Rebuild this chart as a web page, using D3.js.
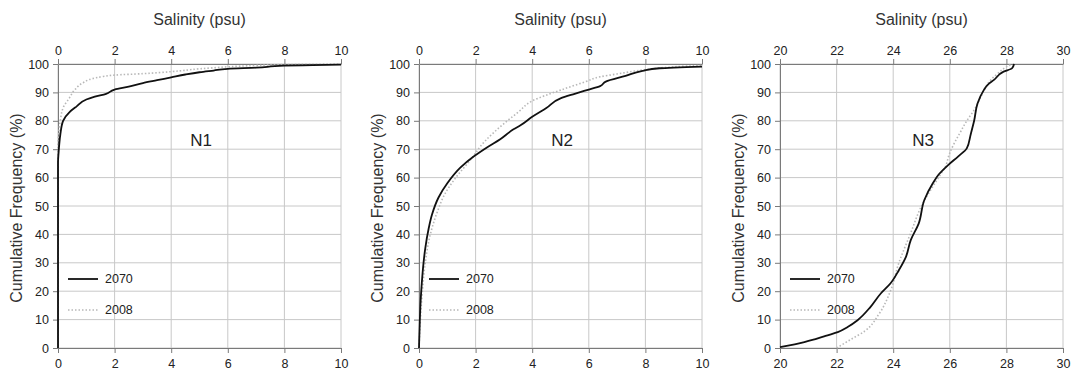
<!DOCTYPE html>
<html>
<head>
<meta charset="utf-8">
<script src="https://cdn.jsdelivr.net/npm/d3@7"></script>
<style>
  body { margin: 0; background: #fff; }
  svg { font-family: "Liberation Sans", Arial, sans-serif; }
  .tick text { fill: #222; font-size: 12.5px; }
  .domain { stroke: #7a7a7a; }
  .tick line { stroke: #7a7a7a; }
</style>
</head>
<body>
<div id="chart"></div>
<script>
// panel names and x ranges (salinity, psu)
var panelNames = ["N1", "N2", "N3"];
var xDomains = [[0, 10], [0, 10], [20, 30]];
var xTicks = [[0, 2, 4, 6, 8, 10], [0, 2, 4, 6, 8, 10], [20, 22, 24, 26, 28, 30]];
var yTicks = [0, 10, 20, 30, 40, 50, 60, 70, 80, 90, 100];
var legendLabels = ["2070", "2008"];

// cumulative frequency curves: [salinity, %]
var n1_2070 = [[0, 0], [0, 65], [0.03, 70], [0.08, 75], [0.18, 80], [0.4, 83], [0.65, 85], [1.0, 87.5],
    [1.3, 88.5], [1.7, 89.5], [2, 91], [2.5, 92], [3, 93.3], [3.5, 94.3], [4, 95.3], [4.5, 96.3],
    [5, 97.1], [5.5, 97.7], [6, 98.3], [7, 98.7], [8, 99.4], [9, 99.6], [10, 99.8]];
var n1_2008 = [[0, 0], [0, 70], [0.02, 75], [0.08, 80], [0.2, 85], [0.4, 88], [0.6, 91], [0.9, 93.5],
    [1.2, 94.8], [1.6, 95.6], [2, 96.1], [3, 96.6], [4, 97.3], [5, 98.3], [6, 99], [7, 99.5],
    [8, 99.8], [10, 100]];
var n2_2070 = [[0, 0], [0.03, 10], [0.06, 17], [0.1, 23], [0.16, 30], [0.22, 35], [0.34, 42], [0.46, 47],
    [0.69, 53], [1.0, 58], [1.46, 63.5], [1.93, 67.4], [2.4, 70.6], [2.87, 73.5], [3.34, 77], [3.6, 78.5],
    [4.0, 81.4], [4.5, 84.5], [5.0, 87.9], [5.5, 89.5], [6, 91], [6.4, 92.2], [6.6, 93.8], [7.3, 95.8],
    [7.9, 97.6], [8.5, 98.5], [10, 99.1]];
var n2_2008 = [[0, 0], [0.05, 10], [0.12, 20], [0.22, 30], [0.4, 40], [0.65, 48], [0.9, 54], [1.3, 60],
    [1.8, 66], [2.3, 72.5], [3.0, 79], [3.5, 83], [4.0, 87], [5.0, 90.8], [5.9, 93.8], [6.4, 95.5],
    [7, 96.5], [8, 98], [9, 99], [10, 99.5]];
var n3_2070 = [[20, 0.3], [20.86, 2.1], [21.56, 4.1], [22.04, 5.6], [22.39, 7.4], [22.74, 9.8], [23.2, 14.5],
    [23.56, 19.2], [23.9, 22.7], [24.2, 27.4], [24.45, 32.1], [24.62, 38], [24.9, 43.8], [25.1, 52.1],
    [25.4, 58], [25.6, 61], [25.95, 64.5], [26.3, 67.5], [26.6, 70.3], [26.74, 75.3], [26.86, 80],
    [26.98, 86.1], [27.2, 90.8], [27.33, 92.6], [27.56, 94.4], [27.9, 97.3], [28.2, 98.5], [28.27, 100]];
var n3_2008 = [[22.0, 0], [22.5, 3], [23.0, 6], [23.5, 12], [23.9, 20], [24.2, 30], [24.6, 40],
    [25.0, 50], [25.6, 60], [25.85, 64], [25.98, 68.2], [26.4, 76.5], [26.6, 80], [26.86, 83.8],
    [27.1, 88.5], [27.45, 94.4], [27.7, 96.7], [28.0, 99], [28.2, 100]];

var series = [[n1_2070, n1_2008], [n2_2070, n2_2008], [n3_2070, n3_2008]];

var width = 1074, height = 375;
var plotLefts = [58, 419, 780];
var plotW = 283;
var plotTop = 64, plotBottom = 348;

var svg = d3.select("#chart").append("svg")
    .attr("width", width)
    .attr("height", height);

var y = d3.scaleLinear().domain([0, 100]).range([plotBottom, plotTop]);

panelNames.forEach(function (name, i) {
    var left = plotLefts[i];
    var x = d3.scaleLinear().domain(xDomains[i]).range([left, left + plotW]);
    var g = svg.append("g");

    // grid
    g.append("g").selectAll("line")
        .data(xTicks[i])
        .enter().append("line")
        .attr("x1", function (d) { return x(d); })
        .attr("x2", function (d) { return x(d); })
        .attr("y1", plotTop).attr("y2", plotBottom)
        .style("stroke", "#c8c8c8").style("stroke-width", 1);
    g.append("g").selectAll("line")
        .data(yTicks)
        .enter().append("line")
        .attr("x1", left).attr("x2", left + plotW)
        .attr("y1", function (d) { return y(d); })
        .attr("y2", function (d) { return y(d); })
        .style("stroke", "#c8c8c8").style("stroke-width", 1);

    // axes
    g.append("g")
        .attr("transform", "translate(0," + plotTop + ")")
        .call(d3.axisTop(x).tickValues(xTicks[i]).tickSize(5).tickPadding(4).tickSizeOuter(0));
    g.append("g")
        .attr("transform", "translate(0," + plotBottom + ")")
        .call(d3.axisBottom(x).tickValues(xTicks[i]).tickSize(5).tickPadding(6).tickSizeOuter(0));
    g.append("g")
        .attr("transform", "translate(" + left + ",0)")
        .call(d3.axisLeft(y).tickValues(yTicks).tickSize(5).tickPadding(4).tickSizeOuter(0));

    // titles
    g.append("text")
        .attr("x", left + plotW / 2)
        .attr("y", 25)
        .attr("text-anchor", "middle")
        .style("font-size", "16px").style("fill", "#333")
        .text("Salinity (psu)");
    g.append("text")
        .attr("transform", "translate(" + (left - 36) + "," + ((plotTop + plotBottom) / 2 + 2) + ") rotate(-90)")
        .attr("text-anchor", "middle")
        .style("font-size", "16px").style("fill", "#333")
        .text("Cumulative Frequency (%)");
    g.append("text")
        .attr("x", left + 143)
        .attr("y", 146)
        .attr("text-anchor", "middle")
        .style("font-size", "17px").style("fill", "#222")
        .text(name);

    // curves
    var line = d3.line()
        .x(function (d) { return x(d[0]); })
        .y(function (d) { return y(d[1]); })
        .curve(d3.curveMonotoneY);

    g.append("path")
        .datum(series[i][1])
        .attr("d", line)
        .style("fill", "none")
        .style("stroke", "#b8b8b8")
        .style("stroke-width", 1.6)
        .style("stroke-dasharray", "1.5,2");
    g.append("path")
        .datum(series[i][0])
        .attr("d", line)
        .style("fill", "none")
        .style("stroke", "#111")
        .style("stroke-width", 1.8);

    // legend
    legendLabels.forEach(function (lab, j) {
        var ly = 279 + j * 31;
        g.append("line")
            .attr("x1", left + 10).attr("x2", left + 40)
            .attr("y1", ly).attr("y2", ly)
            .style("stroke", j === 0 ? "#111" : "#b8b8b8")
            .style("stroke-width", j === 0 ? 1.8 : 1.6)
            .style("stroke-dasharray", j === 0 ? null : "1.5,2");
        g.append("text")
            .attr("x", left + 47)
            .attr("y", ly + 4)
            .style("font-size", "12.5px").style("fill", "#222")
            .text(lab);
    });
});
</script>
</body>
</html>
